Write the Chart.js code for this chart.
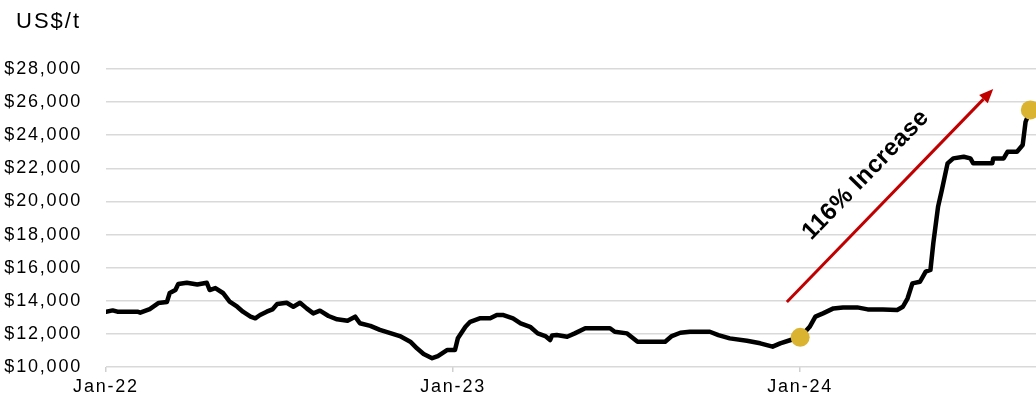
<!DOCTYPE html>
<html>
<head>
<meta charset="utf-8">
<script src="https://cdn.jsdelivr.net/npm/chart.js@4/dist/chart.umd.min.js"></script>
<style>
  html, body { margin: 0; padding: 0; background: #ffffff; }
  #wrap { width: 1036px; height: 404px; position: relative; }
</style>
</head>
<body>
<div id="wrap"><canvas id="c"></canvas></div>
<script>
// Days since 1 Jan 2022
const days = [0,7,12,33,36,46,55,64,67,73,76,85,96,106,109,115,123,130,138,144,152,157,162,169,175,180,190,197,204,211,218,225,234,243,254,262,267,278,288,299,309,320,327,334,343,349,359,367,370,378,383,393,404,411,418,428,436,446,454,462,467,469,474,485,493,504,530,535,548,559,588,595,604,614,635,644,656,674,688,701,709,720,730,740,746,754,765,775,790,801,817,832,838,843,848,856,862,867,870,875,879,885,891,902,909,912,932,933,944,948,958,964,967,972];
// Price, US$/t
const prices = [13340,13420,13340,13340,13280,13500,13860,13920,14470,14650,15010,15090,14980,15090,14650,14770,14470,13950,13640,13340,13040,12940,13140,13340,13480,13800,13880,13640,13880,13540,13240,13400,13080,12880,12800,13040,12640,12480,12240,12040,11870,11530,11130,10790,10530,10660,11030,11030,11730,12430,12730,12940,12940,13140,13140,12940,12640,12430,12030,11870,11630,11900,11930,11830,12030,12340,12340,12130,12030,11530,11530,11870,12070,12130,12130,11930,11730,11590,11430,11230,11430,11630,11790,12430,13040,13240,13540,13600,13600,13480,13480,13440,13640,14150,15050,15150,15760,15860,17470,19680,20690,22300,22600,22700,22600,22300,22300,22600,22600,23000,23000,23410,24800,25530];
// Highlighted start / end points
const markerDays = [730, 972];
const markerPrices = [11790, 25530];
// Axis ticks
const xTickDays = [0, 365, 730];
const xTickLabels = ['Jan-22', 'Jan-23', 'Jan-24'];
const yMin = 10000, yMax = 28000, yStep = 2000;
// Annotation
const arrowFrom = [716, 13930];
const arrowTo = [933, 26790];
const annotationText = '116% Increase';
const annotationAt = [799, 21600];
const unitLabel = 'US$/t';

const FONT = '"Liberation Sans", Arial, sans-serif';

const spacingPlugin = {
  id: 'spacing',
  beforeLayout(chart) { chart.ctx.letterSpacing = '1.8px'; },
  beforeDraw(chart) { chart.ctx.letterSpacing = '1.8px'; }
};

const annotPlugin = {
  id: 'annot',
  afterDraw(chart) {
    const ctx = chart.ctx;
    const xs = chart.scales.x, ys = chart.scales.y;
    const x1 = xs.getPixelForValue(arrowFrom[0]), y1 = ys.getPixelForValue(arrowFrom[1]);
    const x2 = xs.getPixelForValue(arrowTo[0]), y2 = ys.getPixelForValue(arrowTo[1]);
    const ang = Math.atan2(y2 - y1, x2 - x1);
    ctx.save();
    ctx.strokeStyle = '#C00000';
    ctx.fillStyle = '#C00000';
    ctx.lineWidth = 3;
    const head = 14, hw = 6;
    const bx = x2 - head * Math.cos(ang), by = y2 - head * Math.sin(ang);
    ctx.beginPath();
    ctx.moveTo(x1, y1);
    ctx.lineTo(bx, by);
    ctx.stroke();
    ctx.beginPath();
    ctx.moveTo(x2, y2);
    ctx.lineTo(bx + hw * Math.sin(ang), by - hw * Math.cos(ang));
    ctx.lineTo(bx - hw * Math.sin(ang), by + hw * Math.cos(ang));
    ctx.closePath();
    ctx.fill();
    // text
    const tx = xs.getPixelForValue(annotationAt[0]), ty = ys.getPixelForValue(annotationAt[1]);
    ctx.translate(tx, ty);
    ctx.rotate(ang);
    ctx.letterSpacing = '0.5px';
    ctx.fillStyle = '#000000';
    ctx.font = 'bold 24px ' + FONT;
    ctx.textAlign = 'center';
    ctx.textBaseline = 'middle';
    ctx.fillText(annotationText, 0, 0);
    ctx.restore();
    // unit label
    ctx.save();
    ctx.letterSpacing = '2px';
    ctx.fillStyle = '#000000';
    ctx.font = '22px ' + FONT;
    ctx.textAlign = 'left';
    ctx.textBaseline = 'alphabetic';
    ctx.fillText(unitLabel, 16, 28);
    ctx.restore();
  }
};

new Chart(document.getElementById('c'), {
  type: 'line',
  data: {
    datasets: [
      {
        label: 'markers',
        data: markerDays.map((d, i) => ({ x: d, y: markerPrices[i] })),
        showLine: false,
        pointRadius: 9.5,
        pointHoverRadius: 9.5,
        pointBackgroundColor: '#DAB430',
        pointBorderColor: '#DAB430',
        pointBorderWidth: 0,
        clip: false
      },
      {
        label: 'price',
        data: days.map((d, i) => ({ x: d, y: prices[i] })),
        borderColor: '#000000',
        borderWidth: 4.5,
        pointRadius: 0,
        tension: 0,
        borderJoinStyle: 'round',
        borderCapStyle: 'round',
        fill: false
      }
    ]
  },
  options: {
    responsive: true,
    maintainAspectRatio: false,
    animation: false,
    events: [],
    layout: { autoPadding: false, padding: { top: 69, right: 0, bottom: 0, left: 0 } },
    plugins: { legend: { display: false }, tooltip: { enabled: false }, title: { display: false } },
    scales: {
      x: {
        type: 'linear',
        min: 0,
        max: 978,
        afterBuildTicks(scale) { scale.ticks = xTickDays.map(v => ({ value: v })); },
        afterFit(scale) { scale.height = 37; },
        ticks: {
          autoSkip: false,
          maxRotation: 0,
          padding: 4,
          color: '#000000',
          font: { family: FONT, size: 18 },
          callback: (v) => { const i = xTickDays.indexOf(v); return i >= 0 ? xTickLabels[i] : ''; }
        },
        grid: { drawOnChartArea: false, drawTicks: true, tickLength: 5, color: '#d0d0d0', lineWidth: 1.5 },
        border: { display: false }
      },
      y: {
        min: yMin,
        max: yMax,
        afterFit(scale) { scale.width = 106; },
        ticks: {
          stepSize: yStep,
          padding: 24,
          color: '#000000',
          font: { family: FONT, size: 18 },
          callback: (v) => '$' + Number(v).toLocaleString('en-US')
        },
        grid: { drawTicks: false, color: '#d9d9d9', lineWidth: 1.5 },
        border: { display: false }
      }
    }
  },
  plugins: [spacingPlugin, annotPlugin]
});
</script>
</body>
</html>
